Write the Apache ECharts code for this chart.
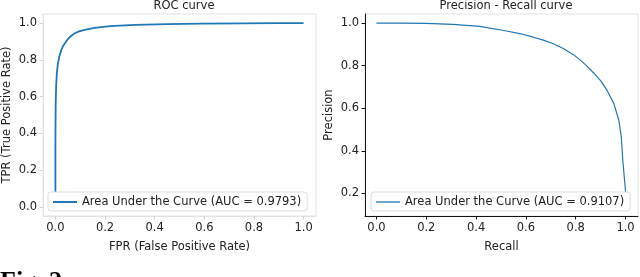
<!DOCTYPE html>
<html><head><meta charset="utf-8">
<script src="https://cdn.jsdelivr.net/npm/echarts@6/dist/echarts.min.js"></script>
<style>html,body{margin:0;padding:0;background:#fff}#c{width:640px;height:277px}</style>
</head><body><div id="c"></div>
<script>
var rocFPR = [0, 0, 0.001, 0.003, 0.006, 0.010, 0.016, 0.024, 0.030, 0.037, 0.044, 0.051, 0.065, 0.078, 0.095, 0.118, 0.158, 0.22, 0.32, 0.45, 0.59, 0.75, 0.9, 1.0];
var rocTPR = [0, 0.35, 0.56, 0.66, 0.73, 0.78, 0.82, 0.855, 0.873, 0.888, 0.902, 0.915, 0.933, 0.945, 0.955, 0.963, 0.975, 0.984, 0.991, 0.995, 0.998, 0.999, 1.0, 1.0];
var prRecall = [0, 0.1, 0.2, 0.307, 0.415, 0.522, 0.58, 0.63, 0.67, 0.71, 0.75, 0.791, 0.82, 0.845, 0.872, 0.899, 0.926, 0.953, 0.973, 0.983, 0.989, 0.996, 1.0, 1.0];
var prPrecision = [1.0, 1.0, 0.999, 0.994, 0.985, 0.963, 0.950, 0.934, 0.920, 0.903, 0.881, 0.852, 0.825, 0.798, 0.766, 0.731, 0.684, 0.622, 0.544, 0.465, 0.356, 0.262, 0.208, 0.137];
var xTicks = [0, 0.2, 0.4, 0.6, 0.8, 1.0];
var rocYTicks = [0, 0.2, 0.4, 0.6, 0.8, 1.0];
var prYTicks = [0.2, 0.4, 0.6, 0.8, 1.0];
var rocName = 'Area Under the Curve (AUC = 0.9793)';
var prName = 'Area Under the Curve (AUC = 0.9107)';

function pairs(a, b) { return a.map(function (v, i) { return [v, b[i]]; }); }
var FONT = 'DejaVu Sans';
var FS = 11.5;
var blue = '#1f77b4';
function axis(gi, min, max, ticks, lineColor, tickColor, name, isY) {
  return {
    type: 'value', gridIndex: gi, min: min, max: max,
    splitLine: { show: false },
    axisLine: { show: true, onZero: false, lineStyle: { color: lineColor, width: 1 } },
    axisTick: { show: true, customValues: ticks, length: 3.5, lineStyle: { color: tickColor, width: 1 } },
    axisLabel: { customValues: ticks, color: '#222', fontFamily: FONT, fontSize: FS, margin: 6,
      formatter: function (v) { return (+v).toFixed(1); } },
    name: name, nameLocation: 'middle', nameGap: isY ? 30 : 25,
    nameTextStyle: { color: '#222', fontFamily: FONT, fontSize: FS }
  };
}
var chart = echarts.init(document.getElementById('c'), null, { renderer: 'canvas' });
chart.setOption({
  backgroundColor: '#fff',
  animation: false,
  title: [
    { text: 'ROC curve', left: 179, top: -5, textAlign: 'center', textStyle: { fontFamily: FONT, fontSize: FS, fontWeight: 'normal', color: '#222' } },
    { text: 'Precision - Recall curve', left: 501, top: -5, textAlign: 'center', textStyle: { fontFamily: FONT, fontSize: FS, fontWeight: 'normal', color: '#222' } }
  ],
  grid: [
    { left: 42, top: 14, width: 274, height: 202, show: true, borderColor: '#e2e2e2', borderWidth: 1 },
    { left: 365, top: 14, width: 273, height: 202, show: true, borderColor: '#e2e2e2', borderWidth: 1 }
  ],
  xAxis: [
    axis(0, -0.05, 1.05, xTicks, '#e2e2e2', '#cfcfcf', 'FPR (False Positive Rate)', false),
    axis(1, -0.046, 1.05, xTicks, '#111', '#111', 'Recall', false)
  ],
  yAxis: [
    axis(0, -0.05, 1.05, rocYTicks, '#e2e2e2', '#cfcfcf', 'TPR (True Positive Rate)', true),
    axis(1, 0.094, 1.043, prYTicks, '#111', '#111', 'Precision', true)
  ],
  legend: [
    { data: [rocName], left: 48, top: 192, orient: 'vertical', icon: 'rect', itemWidth: 24, itemHeight: 2, itemGap: 0,
      padding: [4, 6, 3, 5], backgroundColor: '#fff', borderColor: '#dcdcdc', borderWidth: 1, borderRadius: 3,
      textStyle: { fontFamily: FONT, fontSize: FS, color: '#222' } },
    { data: [prName], left: 371, top: 192, orient: 'vertical', icon: 'rect', itemWidth: 24, itemHeight: 1.3, itemGap: 0,
      padding: [4, 6, 3, 5], backgroundColor: '#fff', borderColor: '#dcdcdc', borderWidth: 1, borderRadius: 3,
      textStyle: { fontFamily: FONT, fontSize: FS, color: '#222' } }
  ],
  graphic: [
    { type: 'text', left: 0, top: 269, style: { text: 'Fig. 2', font: 'bold 26px "Liberation Serif"', fill: '#000' } }
  ],
  series: [
    { type: 'line', name: rocName, xAxisIndex: 0, yAxisIndex: 0, data: pairs(rocFPR, rocTPR), showSymbol: false, symbol: 'none',
      lineStyle: { color: blue, width: 1.8 }, itemStyle: { color: blue }, z: 1 },
    { type: 'line', name: prName, xAxisIndex: 1, yAxisIndex: 1, data: pairs(prRecall, prPrecision), showSymbol: false, symbol: 'none',
      lineStyle: { color: blue, width: 1.2 }, itemStyle: { color: blue }, z: 1 }
  ]
});
</script></body></html>
